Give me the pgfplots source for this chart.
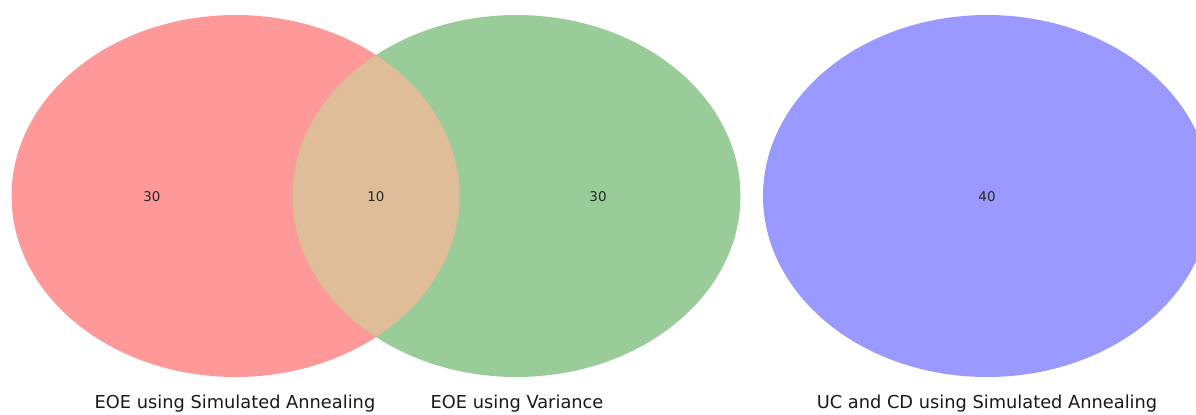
\documentclass[border=0pt]{standalone}
\usepackage{pgfplots}
\pgfplotsset{compat=1.18}
\usepackage{fontspec}
\setmainfont{DejaVu Sans}

\definecolor{setA}{HTML}{FF9999}
\definecolor{setB}{HTML}{99CC99}
\definecolor{setC}{HTML}{9999FF}
\definecolor{setAB}{HTML}{DFBD98}

\begin{document}
\begin{tikzpicture}
\begin{axis}[
    width=598pt, height=207pt, scale only axis,
    xmin=0, xmax=1196, ymin=0, ymax=414, y dir=reverse,
    hide axis, clip=true,
]
% sets A and B
\fill[setA] (axis cs:235.5,196) ellipse [x radius=224, y radius=181];
\fill[setB] (axis cs:516.5,196) ellipse [x radius=224, y radius=181];
\begin{scope}
  \clip (axis cs:235.5,196) ellipse [x radius=224, y radius=181];
  \fill[setAB] (axis cs:516.5,196) ellipse [x radius=224, y radius=181];
\end{scope}
% set C
\fill[setC] (axis cs:987,196) ellipse [x radius=224, y radius=181];

% region counts
\addplot[only marks, mark=none, nodes near coords, point meta=explicit symbolic,
  every node near coord/.append style={anchor=center, font=\fontsize{6.7}{8}\selectfont, text=black!85}]
  coordinates {(152,197)[30] (376,197)[10] (598,197)[30] (987,197)[40]};

% set labels
\node[font=\fontsize{8.9}{10}\selectfont, text=black!90] at (axis cs:235,404) {EOE using Simulated Annealing};
\node[font=\fontsize{8.9}{10}\selectfont, text=black!90] at (axis cs:517,404) {EOE using Variance};
\node[font=\fontsize{8.9}{10}\selectfont, text=black!90] at (axis cs:987,404) {UC and CD using Simulated Annealing};
\end{axis}
\pgfresetboundingbox
\path (current axis.south west) rectangle (current axis.north east);
\end{tikzpicture}
\end{document}
